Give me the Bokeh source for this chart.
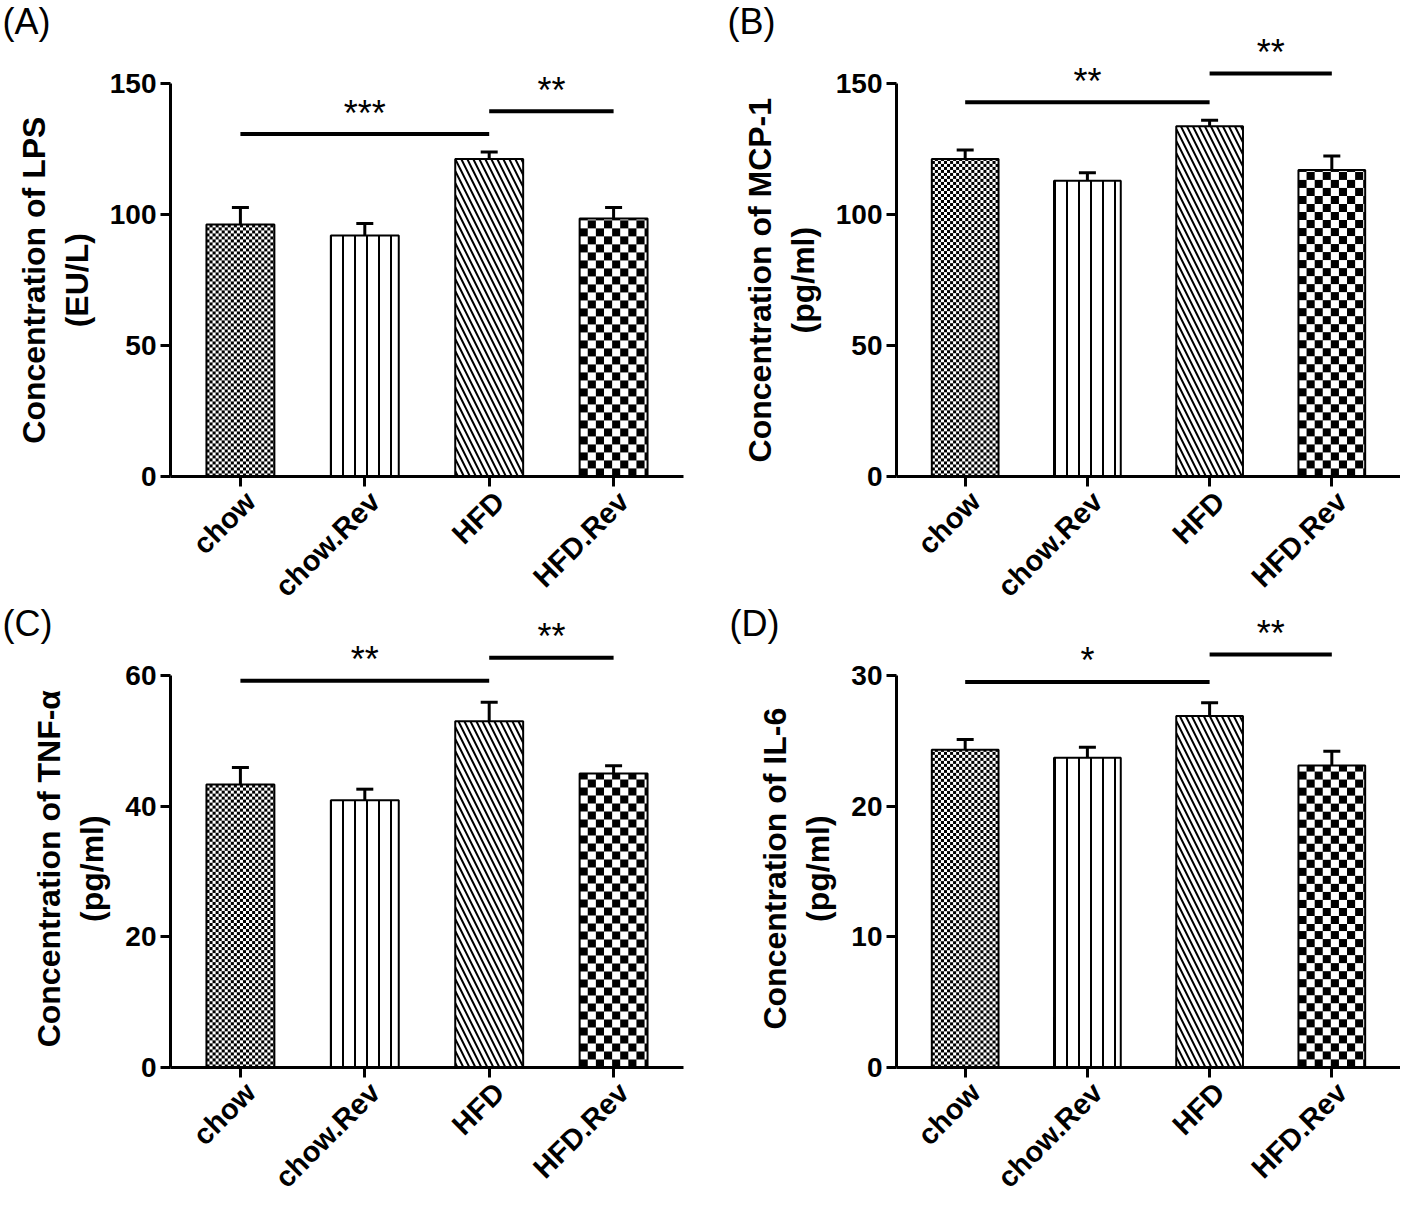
import numpy as np
from bokeh.plotting import figure
from bokeh.layouts import gridplot
from bokeh.models import ColumnDataSource, FixedTicker, Range1d, Whisker, TeeHead
from bokeh.core.properties import value
from bokeh.embed import file_html
from bokeh.resources import INLINE

# ---------------- data ----------------
categories = ["chow", "chow.Rev", "HFD", "HFD.Rev"]

lps_mean = [96.2, 92.0, 121.2, 98.5]
lps_sem = [6.5, 4.6, 2.7, 4.2]
lps_ticks = [0, 50, 100, 150]
lps_sig_from = [0, 2]
lps_sig_to = [2, 3]
lps_sig_y = [130.7, 139.4]
lps_sig_text = ["***", "**"]

mcp_mean = [121.2, 112.9, 133.7, 117.0]
mcp_sem = [3.4, 3.0, 2.3, 5.3]
mcp_ticks = [0, 50, 100, 150]
mcp_sig_from = [0, 2]
mcp_sig_to = [2, 3]
mcp_sig_y = [142.8, 153.8]
mcp_sig_text = ["**", "**"]

tnf_mean = [43.3, 40.9, 53.0, 45.0]
tnf_sem = [2.6, 1.7, 2.9, 1.2]
tnf_ticks = [0, 20, 40, 60]
tnf_sig_from = [0, 2]
tnf_sig_to = [2, 3]
tnf_sig_y = [59.2, 62.7]
tnf_sig_text = ["**", "**"]

il6_mean = [24.3, 23.7, 26.9, 23.1]
il6_sem = [0.8, 0.8, 1.0, 1.1]
il6_ticks = [0, 10, 20, 30]
il6_sig_from = [0, 2]
il6_sig_to = [2, 3]
il6_sig_y = [29.5, 31.6]
il6_sig_text = ["*", "**"]

FONT = "Liberation Sans"
X_START, X_END = -0.562, 3.562
BAR_W = 0.546
FIG_W = 700
ROW_H = [604, 591]
PAD = "\u00a0" * 6     # shifts the centred axis title onto the 0..max span


def checker(h, w, cell):
    img = np.empty((h, w), dtype=np.uint32)
    view = img.view(dtype=np.uint8).reshape((h, w, 4))
    yy, xx = np.mgrid[0:h, 0:w]
    black = ((yy // cell + xx // cell) % 2) == 0
    col = np.where(black, 0, 255).astype(np.uint8)
    view[..., 0] = col
    view[..., 1] = col
    view[..., 2] = col
    view[..., 3] = 255
    return img


def panel(letter, ylabel, means, sems, ticks, sfrom, sto, sy, stext, lay):
    cx = lay["col"]
    r = lay["row"]
    cy = sum(ROW_H[:r])
    fig_h = ROW_H[r]
    fl = lay["axis_x"] - cx
    fr = min(lay["right_x"] - cx, FIG_W)
    fb = lay["zero_y"] - cy
    ft = lay["top_y"] - cy
    ytop_px = lay["tick_y"] - cy
    fw = fr - fl
    fh = fb - ft
    pxu_y = (fb - ytop_px) / ticks[-1]
    pxu_x = fw / (X_END - X_START)
    y_end = fh / pxu_y

    p = figure(width=FIG_W, height=fig_h, output_backend="svg", toolbar_location=None,
               x_range=Range1d(X_START, X_END), y_range=Range1d(0, y_end),
               min_border_left=fl, min_border_right=FIG_W - fr,
               min_border_top=ft, min_border_bottom=fig_h - fb)
    p.outline_line_color = None
    p.grid.visible = False
    p.background_fill_color = "white"
    p.border_fill_color = "white"

    xs = list(range(len(categories)))
    bw_px = int(round(BAR_W * pxu_x))
    for i, cell in [(0, 3), (3, 8)]:
        hp = int(round(means[i] * pxu_y))
        p.image_rgba(image=[checker(hp, bw_px, cell)], x=xs[i] - BAR_W / 2, y=0,
                     dw=BAR_W, dh=means[i])
    p.vbar(x=[xs[1]], top=[means[1]], width=BAR_W, fill_color="white",
           line_color=None, hatch_pattern="vertical_line", hatch_scale=12,
           hatch_weight=2, hatch_color="black")
    p.vbar(x=[xs[2]], top=[means[2]], width=BAR_W, fill_color="white",
           line_color=None, hatch_pattern="left_diagonal_line", hatch_scale=12,
           hatch_weight=2, hatch_color="black")
    src = ColumnDataSource(dict(x=xs, m=means, u=[a + b for a, b in zip(means, sems)],
                                y0=[0] * len(xs), lab=categories))
    p.vbar(x="x", top="m", width=BAR_W, fill_color=None, line_color="black",
           line_width=2, source=src)
    p.add_layout(Whisker(base="x", lower="m", upper="u", source=src, dimension="height",
                         line_width=3, line_color="black",
                         upper_head=TeeHead(size=17, line_width=3, line_color="black"),
                         lower_head=None))
    sig = ColumnDataSource(dict(x0=sfrom, x1=sto, y=sy, t=stext,
                                xm=[(a + b) / 2 for a, b in zip(sfrom, sto)]))
    p.segment(x0="x0", y0="y", x1="x1", y1="y", line_width=4, line_color="black", source=sig)
    p.text(x="xm", y="y", text="t", source=sig, text_align="center",
           text_baseline="alphabetic", y_offset=-21, text_font=value(FONT),
           text_font_size="36px", text_color="black")

    # category labels (rotated), drawn as unclipped text
    p.text(x="x", y="y0", text="lab", source=src, angle=np.pi / 4,
           text_align="right", text_baseline="middle", x_offset=10, y_offset=20,
           text_font=value(FONT), text_font_style="bold", text_font_size="29px",
           text_color="black", level="overlay")

    # panel letter
    lsrc = ColumnDataSource(dict(x=[X_START], y=[y_end], t=[letter]))
    p.text(x="x", y="y", text="t", source=lsrc, text_align="left",
           text_baseline="alphabetic",
           x_offset=lay["let_x"] - cx - fl, y_offset=lay["let_y"] - cy - ft,
           text_font=value(FONT), text_font_size="36px", text_color="black",
           level="overlay")

    for ax in (p.xaxis, p.yaxis):
        ax.axis_line_width = 3
        ax.major_tick_line_width = 3
        ax.major_tick_out = 10
        ax.major_tick_in = 0
        ax.minor_tick_line_color = None
        ax.major_label_text_font = FONT
        ax.major_label_text_font_style = "bold"
        ax.major_label_text_color = "black"
        ax.axis_line_color = "black"
        ax.major_tick_line_color = "black"
    p.yaxis.ticker = FixedTicker(ticks=ticks)
    p.yaxis.bounds = (0, ticks[-1])
    p.yaxis.major_label_text_font_size = "28px"
    p.yaxis.major_label_standoff = 4
    l1, l2 = ylabel
    p.yaxis.axis_label = l1 + PAD + "\n" + l2 + PAD
    p.yaxis.axis_label_text_font = FONT
    p.yaxis.axis_label_text_font_style = "bold"
    p.yaxis.axis_label_text_font_size = "32px"
    p.yaxis.axis_label_text_color = "black"
    p.yaxis.axis_label_standoff = 12
    p.xaxis.ticker = FixedTicker(ticks=xs)
    p.xaxis.major_label_overrides = {i: "" for i in xs}
    p.xaxis.major_label_text_font_size = "1px"
    p.xaxis.major_label_standoff = 0
    return p


lay_a = dict(col=0, row=0, axis_x=170, right_x=683, zero_y=476, tick_y=83, top_y=30,
             let_x=2, let_y=21)
lay_b = dict(col=700, row=0, axis_x=896, right_x=1413, zero_y=476, tick_y=83, top_y=30,
             let_x=727, let_y=21)
lay_c = dict(col=0, row=1, axis_x=170, right_x=683, zero_y=1067, tick_y=675, top_y=616,
             let_x=2, let_y=623)
lay_d = dict(col=700, row=1, axis_x=894, right_x=1407, zero_y=1068, tick_y=675, top_y=616,
             let_x=727, let_y=623)

pa = panel("(A)", ("Concentration of LPS", "(EU/L)"), lps_mean, lps_sem, lps_ticks,
           lps_sig_from, lps_sig_to, lps_sig_y, lps_sig_text, lay_a)
pb = panel("(B)", ("Concentration of MCP-1", "(pg/ml)"), mcp_mean, mcp_sem, mcp_ticks,
           mcp_sig_from, mcp_sig_to, mcp_sig_y, mcp_sig_text, lay_b)
pc = panel("(C)", ("Concentration of TNF-\u03b1", "(pg/ml)"), tnf_mean, tnf_sem, tnf_ticks,
           tnf_sig_from, tnf_sig_to, tnf_sig_y, tnf_sig_text, lay_c)
pd_ = panel("(D)", ("Concentration of IL-6", "(pg/ml)"), il6_mean, il6_sem, il6_ticks,
            il6_sig_from, il6_sig_to, il6_sig_y, il6_sig_text, lay_d)

grid = gridplot([[pa, pb], [pc, pd_]], toolbar_location=None)
open("out.html", "w").write(file_html(grid, INLINE))
